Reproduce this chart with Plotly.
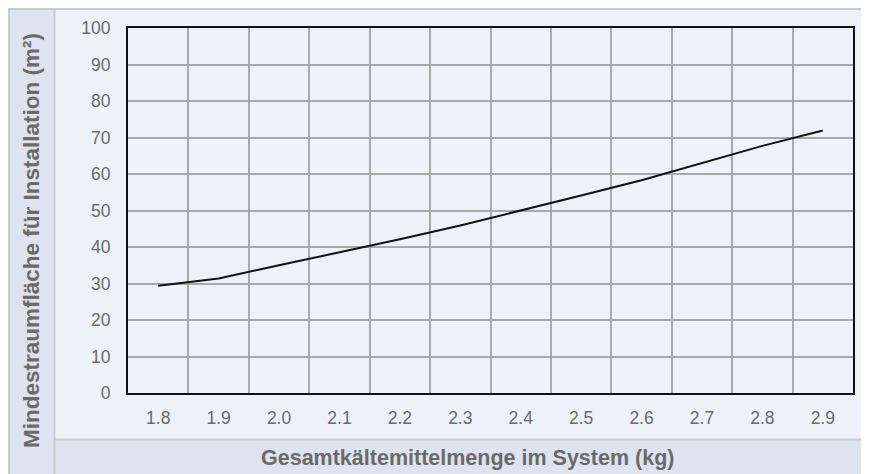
import plotly.graph_objects as go

charge_kg = ["1.8", "1.9", "2.0", "2.1", "2.2", "2.3", "2.4", "2.5", "2.6", "2.7", "2.8", "2.9"]
min_area = [29.4, 31.4, 35.0, 38.5, 42.1, 45.9, 49.9, 54.1, 58.3, 63.0, 67.7, 71.9]
y_ticks = [0, 10, 20, 30, 40, 50, 60, 70, 80, 90, 100]

# The page adds an 8px body margin, so figure coordinates = page coordinates - 8
W, H = 861, 466
L, R, T, B = 120, 845, 20, 385

def px(x):
    return (x - L) / (R - L)

def py(y):
    return (B - y) / (B - T)

panel = "#eef2f8"
band = "#dde4ef"
border = "#c9cbcf"
text_col = "#6a6a6a"
font_family = "Liberation Sans, Arial, sans-serif"

fig = go.Figure()
fig.add_trace(go.Scatter(
    x=charge_kg, y=min_area, mode="lines",
    line=dict(color="#111111", width=2),
    hoverinfo="x+y", showlegend=False,
))

shapes = [
    dict(type="rect", xref="paper", yref="paper", x0=px(47), x1=px(W + 2), y0=py(432), y1=py(0),
         fillcolor=panel, line=dict(width=0), layer="below"),
    dict(type="rect", xref="paper", yref="paper", x0=px(0), x1=px(47), y0=py(H + 2), y1=py(0),
         fillcolor=band, line=dict(width=0), layer="below"),
    dict(type="rect", xref="paper", yref="paper", x0=px(47), x1=px(W + 2), y0=py(H + 2), y1=py(432),
         fillcolor=band, line=dict(width=0), layer="below"),
    dict(type="line", xref="paper", yref="paper", x0=px(0), x1=px(W + 2), y0=py(1), y1=py(1),
         line=dict(color=border, width=2), layer="below"),
    dict(type="line", xref="paper", yref="paper", x0=px(1), x1=px(1), y0=py(0), y1=py(H + 2),
         line=dict(color=border, width=2), layer="below"),
    dict(type="line", xref="paper", yref="paper", x0=px(46.5), x1=px(46.5), y0=py(0), y1=py(H + 2),
         line=dict(color=border, width=2), layer="below"),
    dict(type="line", xref="paper", yref="paper", x0=px(47), x1=px(W + 2), y0=py(431.5), y1=py(431.5),
         line=dict(color=border, width=2), layer="below"),
]

annotations = [
    dict(text="<b>Gesamtkältemittelmenge im System (kg)</b>", xref="paper", yref="paper",
         x=px(459), y=py(450), xanchor="center", yanchor="middle", showarrow=False,
         font=dict(family=font_family, size=21.5, color=text_col)),
    dict(text="<b>Mindestraumfläche für Installation (m²)</b>", xref="paper", yref="paper",
         x=px(24), y=py(233), xanchor="center", yanchor="middle", showarrow=False, textangle=-90,
         font=dict(family=font_family, size=22.5, color=text_col)),
]

fig.update_layout(
    width=W, height=H,
    margin=dict(l=L, r=W - R, t=T, b=H - B, pad=0),
    paper_bgcolor="white",
    plot_bgcolor=panel,
    shapes=shapes,
    annotations=annotations,
    font=dict(family=font_family, size=17.5, color=text_col),
    xaxis=dict(
        type="category", categoryorder="array", categoryarray=charge_kg,
        range=[-0.5, len(charge_kg) - 0.5], automargin=False,
        tickson="boundaries", showgrid=True, gridcolor="#a9a9a9", gridwidth=1.5,
        ticks="", ticklabelstandoff=8,
        showline=True, linecolor="#111111", linewidth=2, mirror=True,
        zeroline=False, fixedrange=True,
        tickfont=dict(size=17.5, color=text_col),
    ),
    yaxis=dict(
        range=[0, 100], tickvals=y_ticks, automargin=False,
        showgrid=True, gridcolor="#a9a9a9", gridwidth=1.5,
        ticks="outside", ticklen=12, tickcolor="rgba(0,0,0,0)",
        showline=True, linecolor="#111111", linewidth=2, mirror=True,
        zeroline=False, fixedrange=True,
        tickfont=dict(size=17.5, color=text_col),
    ),
)

fig.write_html("out.html")
